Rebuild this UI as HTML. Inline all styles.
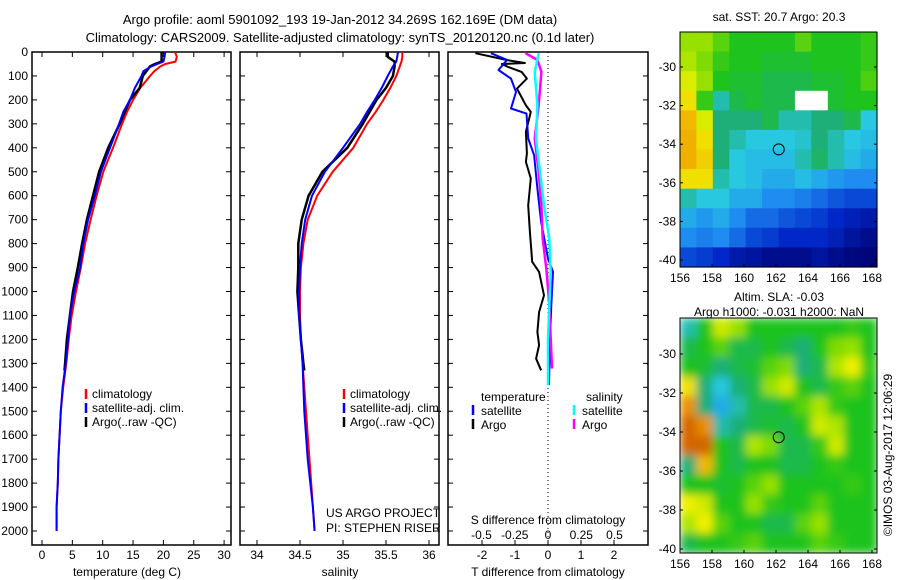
<!DOCTYPE html>
<html><head><meta charset="utf-8"><style>
html,body{margin:0;padding:0;background:#fff;}
svg{display:block;font-family:"Liberation Sans",sans-serif;font-size:12px;}
</style></head><body>
<svg id="chart" width="900" height="580" viewBox="0 0 900 580">
<text x="340" y="24" text-anchor="middle" font-size="13">Argo profile: aoml 5901092_193 19-Jan-2012 34.269S 162.169E (DM data)</text>
<text x="340" y="42" text-anchor="middle" font-size="13">Climatology: CARS2009. Satellite-adjusted climatology: synTS_20120120.nc (0.1d later)</text>
<g id="g"></g>
</svg>
<script>
// ---- data ----
const depthsT=[0,20,40,50,60,80,100,150,200,250,300,400,500,600,700,800,900,1000,1100,1200,1300,1400,1500,1600,1700,1800,1900,2000];
const climTemp=[21.9,22.2,22.0,20.3,19.5,18.5,17.8,16.2,15.0,14.0,13.2,11.7,10.1,9.0,8.0,7.1,6.4,5.6,4.9,4.4,4.0,3.5,3.1,2.9,2.7,2.6,2.4,2.4];
const satTemp=[20.3,20.2,20.0,19.0,18.0,16.7,16.4,15.3,14.5,13.4,12.7,11.2,9.7,8.7,7.6,6.8,6.3,5.3,4.6,4.3,3.9,3.4,3.1,2.9,2.7,2.6,2.4,2.4];
const argoDepths=[0,20,40,50,60,100,150,200,300,400,500,600,700,800,900,1000,1100,1200,1300,1330];
const argoTemp=[19.7,19.7,19.7,18.6,17.8,16.6,16.1,14.5,12.8,10.9,9.4,8.4,7.4,6.6,5.9,5.1,4.6,4.1,3.8,3.7];
const climSal=[35.69,35.69,35.68,35.67,35.66,35.64,35.62,35.55,35.47,35.38,35.28,35.12,34.88,34.70,34.59,34.54,34.51,34.50,34.50,34.51,34.53,34.55,34.57,34.59,34.61,34.63,34.65,34.67];
const satSal=[35.64,35.63,35.62,35.60,35.58,35.55,35.52,35.45,35.37,35.28,35.20,35.00,34.79,34.64,34.56,34.52,34.50,34.49,34.49,34.51,34.53,34.54,34.55,34.57,34.59,34.62,34.65,34.67];
const argoSal=[35.52,35.52,35.60,35.60,35.60,35.58,35.50,35.39,35.23,35.05,34.76,34.60,34.52,34.48,34.48,34.47,34.49,34.51,34.54,34.55];
const diffDepthsArgoT=[5,33,46,50,63,83,111,153,223,250,333,424,459,528,640,751,876,918,1016,1086,1169,1224,1280,1329];
const argoTDiff=[-2.2,-1.27,-0.7,-1.4,-1.2,-0.8,-0.64,-0.94,-0.67,-0.52,-0.67,-0.64,-0.67,-0.52,-0.6,-0.55,-0.48,-0.27,-0.12,-0.27,-0.32,-0.27,-0.36,-0.21];
const diffDepthsSatT=[5,33,75,111,167,236,257,361,431,570,709,862,918,1057,1196,1391];
const satTDiff=[-1.73,-1.24,-1.5,-1.12,-0.97,-1.12,-0.65,-0.6,-0.42,-0.32,-0.21,0,0.15,0.1,0.06,0.03];
const diffDepthsS=[5,33,83,222,361,500,640,779,918,1057,1196,1322];
const argoSDiff=[-0.17,-0.08,-0.05,-0.07,-0.1,-0.07,-0.05,-0.04,-0.01,0.01,0.02,0.03];
const diffDepthsSatS=[5,83,222,361,500,640,779,918,1057,1196,1391];
const satSDiff=[-0.07,-0.1,-0.08,-0.09,-0.06,-0.03,0.01,0.02,0.01,0,0];
const depthTicks=[0,100,200,300,400,500,600,700,800,900,1000,1100,1200,1300,1400,1500,1600,1700,1800,1900,2000];
const tempTicks=[0,5,10,15,20,25,30];
const salTicks=[34,34.5,35,35.5,36];
const tdiffTicks=[-2,-1,0,1,2];
const sdiffTicks=[-0.5,-0.25,0,0.25,0.5];
const latTicks=[-30,-32,-34,-36,-38,-40];
const lonTicks=[156,158,160,162,164,166,168];
const sstGrid=[
[0.7,0.7,0.65,0.6,0.6,0.6,0.6,0.65,0.6,0.6,0.6,0.62],
[0.72,0.68,0.62,0.6,0.6,0.58,0.58,0.58,0.6,0.6,0.6,0.62],
[0.76,0.7,0.6,0.58,0.58,0.55,0.55,0.55,0.58,0.58,0.6,0.64],
[0.8,0.62,0.45,0.55,0.58,0.55,0.55,-1,-1,0.58,0.6,0.6],
[0.85,0.76,0.5,0.5,0.5,0.55,0.45,0.45,0.5,0.5,0.55,0.4],
[0.86,0.8,0.5,0.45,0.4,0.4,0.4,0.42,0.5,0.45,0.4,0.38],
[0.86,0.82,0.5,0.4,0.38,0.38,0.38,0.45,0.52,0.45,0.38,0.35],
[0.8,0.8,0.45,0.4,0.38,0.35,0.35,0.38,0.35,0.32,0.3,0.3],
[0.45,0.4,0.4,0.35,0.35,0.3,0.3,0.28,0.25,0.22,0.2,0.2],
[0.35,0.32,0.35,0.3,0.25,0.25,0.22,0.2,0.18,0.15,0.12,0.1],
[0.3,0.28,0.3,0.25,0.2,0.18,0.15,0.15,0.15,0.12,0.08,0.05],
[0.2,0.18,0.15,0.1,0.08,0.05,0.05,0.05,0.08,0.05,0.03,0.02]];
const slaGrid=[
[0.45,0.6,0.75,0.7,0.6,0.6,0.6,0.6,0.6,0.6,0.62,0.6],
[0.55,0.6,0.65,0.55,0.55,0.6,0.55,0.5,0.6,0.68,0.7,0.6],
[0.6,0.58,0.5,0.55,0.58,0.65,0.68,0.5,0.55,0.72,0.78,0.62],
[0.8,0.5,0.4,0.5,0.55,0.7,0.75,0.6,0.55,0.62,0.65,0.6],
[0.9,0.5,0.35,0.45,0.55,0.55,0.6,0.65,0.72,0.62,0.6,0.6],
[0.95,0.9,0.45,0.5,0.55,0.58,0.55,0.6,0.75,0.72,0.6,0.6],
[0.95,0.95,0.6,0.55,0.72,0.68,0.55,0.55,0.62,0.75,0.6,0.6],
[0.5,0.85,0.6,0.55,0.6,0.6,0.55,0.55,0.6,0.62,0.6,0.6],
[0.6,0.6,0.58,0.6,0.65,0.7,0.6,0.6,0.6,0.6,0.62,0.6],
[0.78,0.75,0.6,0.6,0.7,0.62,0.6,0.6,0.65,0.6,0.6,0.6],
[0.72,0.78,0.65,0.6,0.6,0.55,0.55,0.65,0.7,0.6,0.6,0.6],
[0.55,0.6,0.6,0.62,0.65,0.6,0.6,0.6,0.65,0.62,0.6,0.6]];
const argoLon=162.17, argoLat=-34.27;

// ---- helpers ----
const NS="http://www.w3.org/2000/svg";
const G=document.getElementById('g');
function mk(tag,attrs,parent){const e=document.createElementNS(NS,tag);for(const k in attrs)e.setAttribute(k,attrs[k]);(parent||G).appendChild(e);return e;}
const Y0=52, PX100=23.95;
const yD=d=>Y0+d*PX100/100;
const xT=t=>42+t*6.07;
const xS=s=>257+(s-34)*86;
const xTd=t=>548+t*33;
const xSd=s=>548+s*133;

function line(xs,ds,fx,color,w,name){
  const p=xs.map((v,i)=>fx(v).toFixed(1)+','+yD(ds[i]).toFixed(1)).join(' ');
  const e=mk('polyline',{points:p,fill:'none',stroke:color,'stroke-width':w,'stroke-linejoin':'round'});
  
  
}
function txt(x,y,s,anchor,name,extra){
  const e=mk('text',Object.assign({x:x,y:y,'text-anchor':anchor||'start'},extra||{}));
  e.textContent=s;
  
  
  return e;
}
function frame(x0,x1,name){
  const e=mk('rect',{x:x0,y:52,width:x1-x0,height:493,fill:'none',stroke:'#000','stroke-width':1.5});
  
  
  depthTicks.forEach(d=>{const y=yD(d);mk('line',{x1:x0,x2:x0+5,y1:y,y2:y,stroke:'#000'});mk('line',{x1:x1-5,x2:x1,y1:y,y2:y,stroke:'#000'});});
}
depthTicks.forEach(d=>txt(28,yD(d)+4,String(d),'end','depth-tick-label'));

// panel 1 temperature
frame(32,231,'temperature-panel');
tempTicks.forEach(t=>{const x=xT(t);mk('line',{x1:x,x2:x,y1:52,y2:57,stroke:'#000'});mk('line',{x1:x,x2:x,y1:540,y2:545,stroke:'#000'});txt(x,559,String(t),'middle','temp-tick-label');});
txt(127,576,'temperature (deg C)','middle','x-axis-title-temperature');
line(climTemp,depthsT,xT,'#f00',2,'temp-climatology-line');
line(argoTemp,argoDepths,xT,'#000',2.5,'temp-argo-line');
line(satTemp,depthsT,xT,'#00f',2,'temp-satellite-line');

// panel 2 salinity
frame(240,439,'salinity-panel');
salTicks.forEach(s=>{const x=xS(s);mk('line',{x1:x,x2:x,y1:52,y2:57,stroke:'#000'});mk('line',{x1:x,x2:x,y1:540,y2:545,stroke:'#000'});txt(x,559,String(s),'middle','sal-tick-label');});
txt(340,576,'salinity','middle','x-axis-title-salinity');
line(climSal,depthsT,xS,'#f00',2,'sal-climatology-line');
line(argoSal,argoDepths,xS,'#000',2.5,'sal-argo-line');
line(satSal,depthsT,xS,'#00f',2,'sal-satellite-line');

[[86,'climatology-legend'],[344,'climatology-legend-2']].forEach(([lx,nm])=>{
  [['#f00','climatology'],['#00f','satellite-adj. clim.'],['#000','Argo(..raw -QC)']].forEach(([c,s],i)=>{
    const y=398+i*14;
    mk('line',{x1:lx,x2:lx,y1:y-9,y2:y+1,stroke:c,'stroke-width':2.5});
    txt(lx+6,y,s,'start','legend-entry');
  });
});
txt(326,517,'US ARGO PROJECT','start','project-label');
txt(326,532,'PI: STEPHEN RISER','start','pi-label');

// panel 3 differences
frame(448,648,'difference-panel');
mk('line',{x1:548,x2:548,y1:52,y2:545,stroke:'#000','stroke-dasharray':'1,3'});
tdiffTicks.forEach(t=>{const x=xTd(t);mk('line',{x1:x,x2:x,y1:540,y2:545,stroke:'#000'});txt(x,559,String(t),'middle','tdiff-tick-label');});
sdiffTicks.forEach(s=>{txt(xSd(s),539,String(s),'middle','sdiff-tick-label');});
txt(548,524,'S difference from climatology','middle','sdiff-axis-title');
txt(548,576,'T difference from climatology','middle','tdiff-axis-title');
line(argoTDiff,diffDepthsArgoT,xTd,'#000',2,'tdiff-argo-line');
line(satTDiff,diffDepthsSatT,xTd,'#00f',2,'tdiff-satellite-line');
line(argoSDiff,diffDepthsS,xSd,'#f0f',2.5,'sdiff-argo-line');
line(satSDiff,diffDepthsSatS,xSd,'#0ff',2.5,'sdiff-satellite-line');
txt(481,401,'temperature','start','legend-temperature-header');
txt(586,401,'salinity','start','legend-salinity-header');
[['#00f',473,'satellite',415],['#000',473,'Argo',429],['#0ff',574,'satellite',415],['#f0f',574,'Argo',429]].forEach(([c,lx,s,y])=>{
  mk('line',{x1:lx,x2:lx,y1:y-10,y2:y,stroke:c,'stroke-width':2.5});
  txt(lx+8,y,s,'start','diff-legend-entry');
});

// maps
const stops=[[0,[0,0,110]],[0.15,[0,40,200]],[0.3,[30,140,240]],[0.4,[40,200,225]],[0.5,[30,175,120]],[0.6,[30,195,30]],[0.7,[150,225,0]],[0.78,[240,240,0]],[0.88,[240,160,0]],[1,[190,60,0]]];
function cmap(v){
  if(v<0)return '#fff';
  for(let i=1;i<stops.length;i++){if(v<=stops[i][0]){const a=stops[i-1],b=stops[i];const f=(v-a[0])/(b[0]-a[0]);return 'rgb('+a[1].map((c,k)=>Math.round(c+(b[1][k]-c)*f)).join(',')+')';}}
  return 'rgb(190,60,0)';
}
const defs=mk('defs',{});
const x0m=680,x1m=877;
function drawMap(grid,top,bot,lat30y,lat40y,name,smooth){
  const lonX=l=>680+(l-156)*16;
  const latY=l=>lat30y+(-30-l)*(lat40y-lat30y)/10;
  const g=mk('g',{});
  
  
  let cellAttrs={};
  if(smooth){
    const f=mk('filter',{id:'blur'+name,filterUnits:'userSpaceOnUse',x:x0m,y:top,width:x1m-x0m,height:bot-top},defs);
    mk('feGaussianBlur',{stdDeviation:4.5,edgeMode:'duplicate'},f);
    cellAttrs={filter:'url(#blur'+name+')'};
  }
  const n=grid.length,m=grid[0].length;
  const cw=(x1m-x0m)/m, ch=(bot-top)/n;
  const cells=mk('g',cellAttrs,g);
  grid.forEach((row,r)=>row.forEach((v,c)=>{
    mk('rect',{x:(x0m+c*cw).toFixed(1),y:(top+r*ch).toFixed(1),width:(cw+0.6).toFixed(1),height:(ch+0.6).toFixed(1),fill:cmap(v)},cells);
  }));
  mk('rect',{x:x0m,y:top,width:x1m-x0m,height:bot-top,fill:'none',stroke:'#000','stroke-width':1},g);
  latTicks.forEach(l=>{const y=latY(l);mk('line',{x1:x0m,x2:x0m+3,y1:y,y2:y,stroke:'#000'},g);mk('line',{x1:x1m-3,x2:x1m,y1:y,y2:y,stroke:'#000'},g);txt(676,y+4,String(l),'end','lat-tick-label');});
  lonTicks.forEach(l=>{const x=lonX(l);mk('line',{x1:x,x2:x,y1:bot-3,y2:bot,stroke:'#000'},g);txt(x,bot+15,String(l),'middle','lon-tick-label');});
  const c=mk('circle',{cx:lonX(argoLon),cy:latY(argoLat),r:5.5,fill:'none',stroke:'#000','stroke-width':1},g);
  
  
}
drawMap(sstGrid,32,267,67,260,'sst-map',false);
drawMap(slaGrid,318,553,354,549,'sla-map',true);
txt(779,21,'sat. SST: 20.7 Argo: 20.3','middle','sst-map-title');
txt(779,301,'Altim. SLA: -0.03','middle','sla-map-title-1');
txt(779,316,'Argo h1000: -0.031 h2000: NaN','middle','sla-map-title-2');
txt(0,0,'\u00a9IMOS 03-Aug-2017 12:06:29','middle','timestamp-label',{transform:'translate(892,455) rotate(-90)'});
</script>
</body></html>
